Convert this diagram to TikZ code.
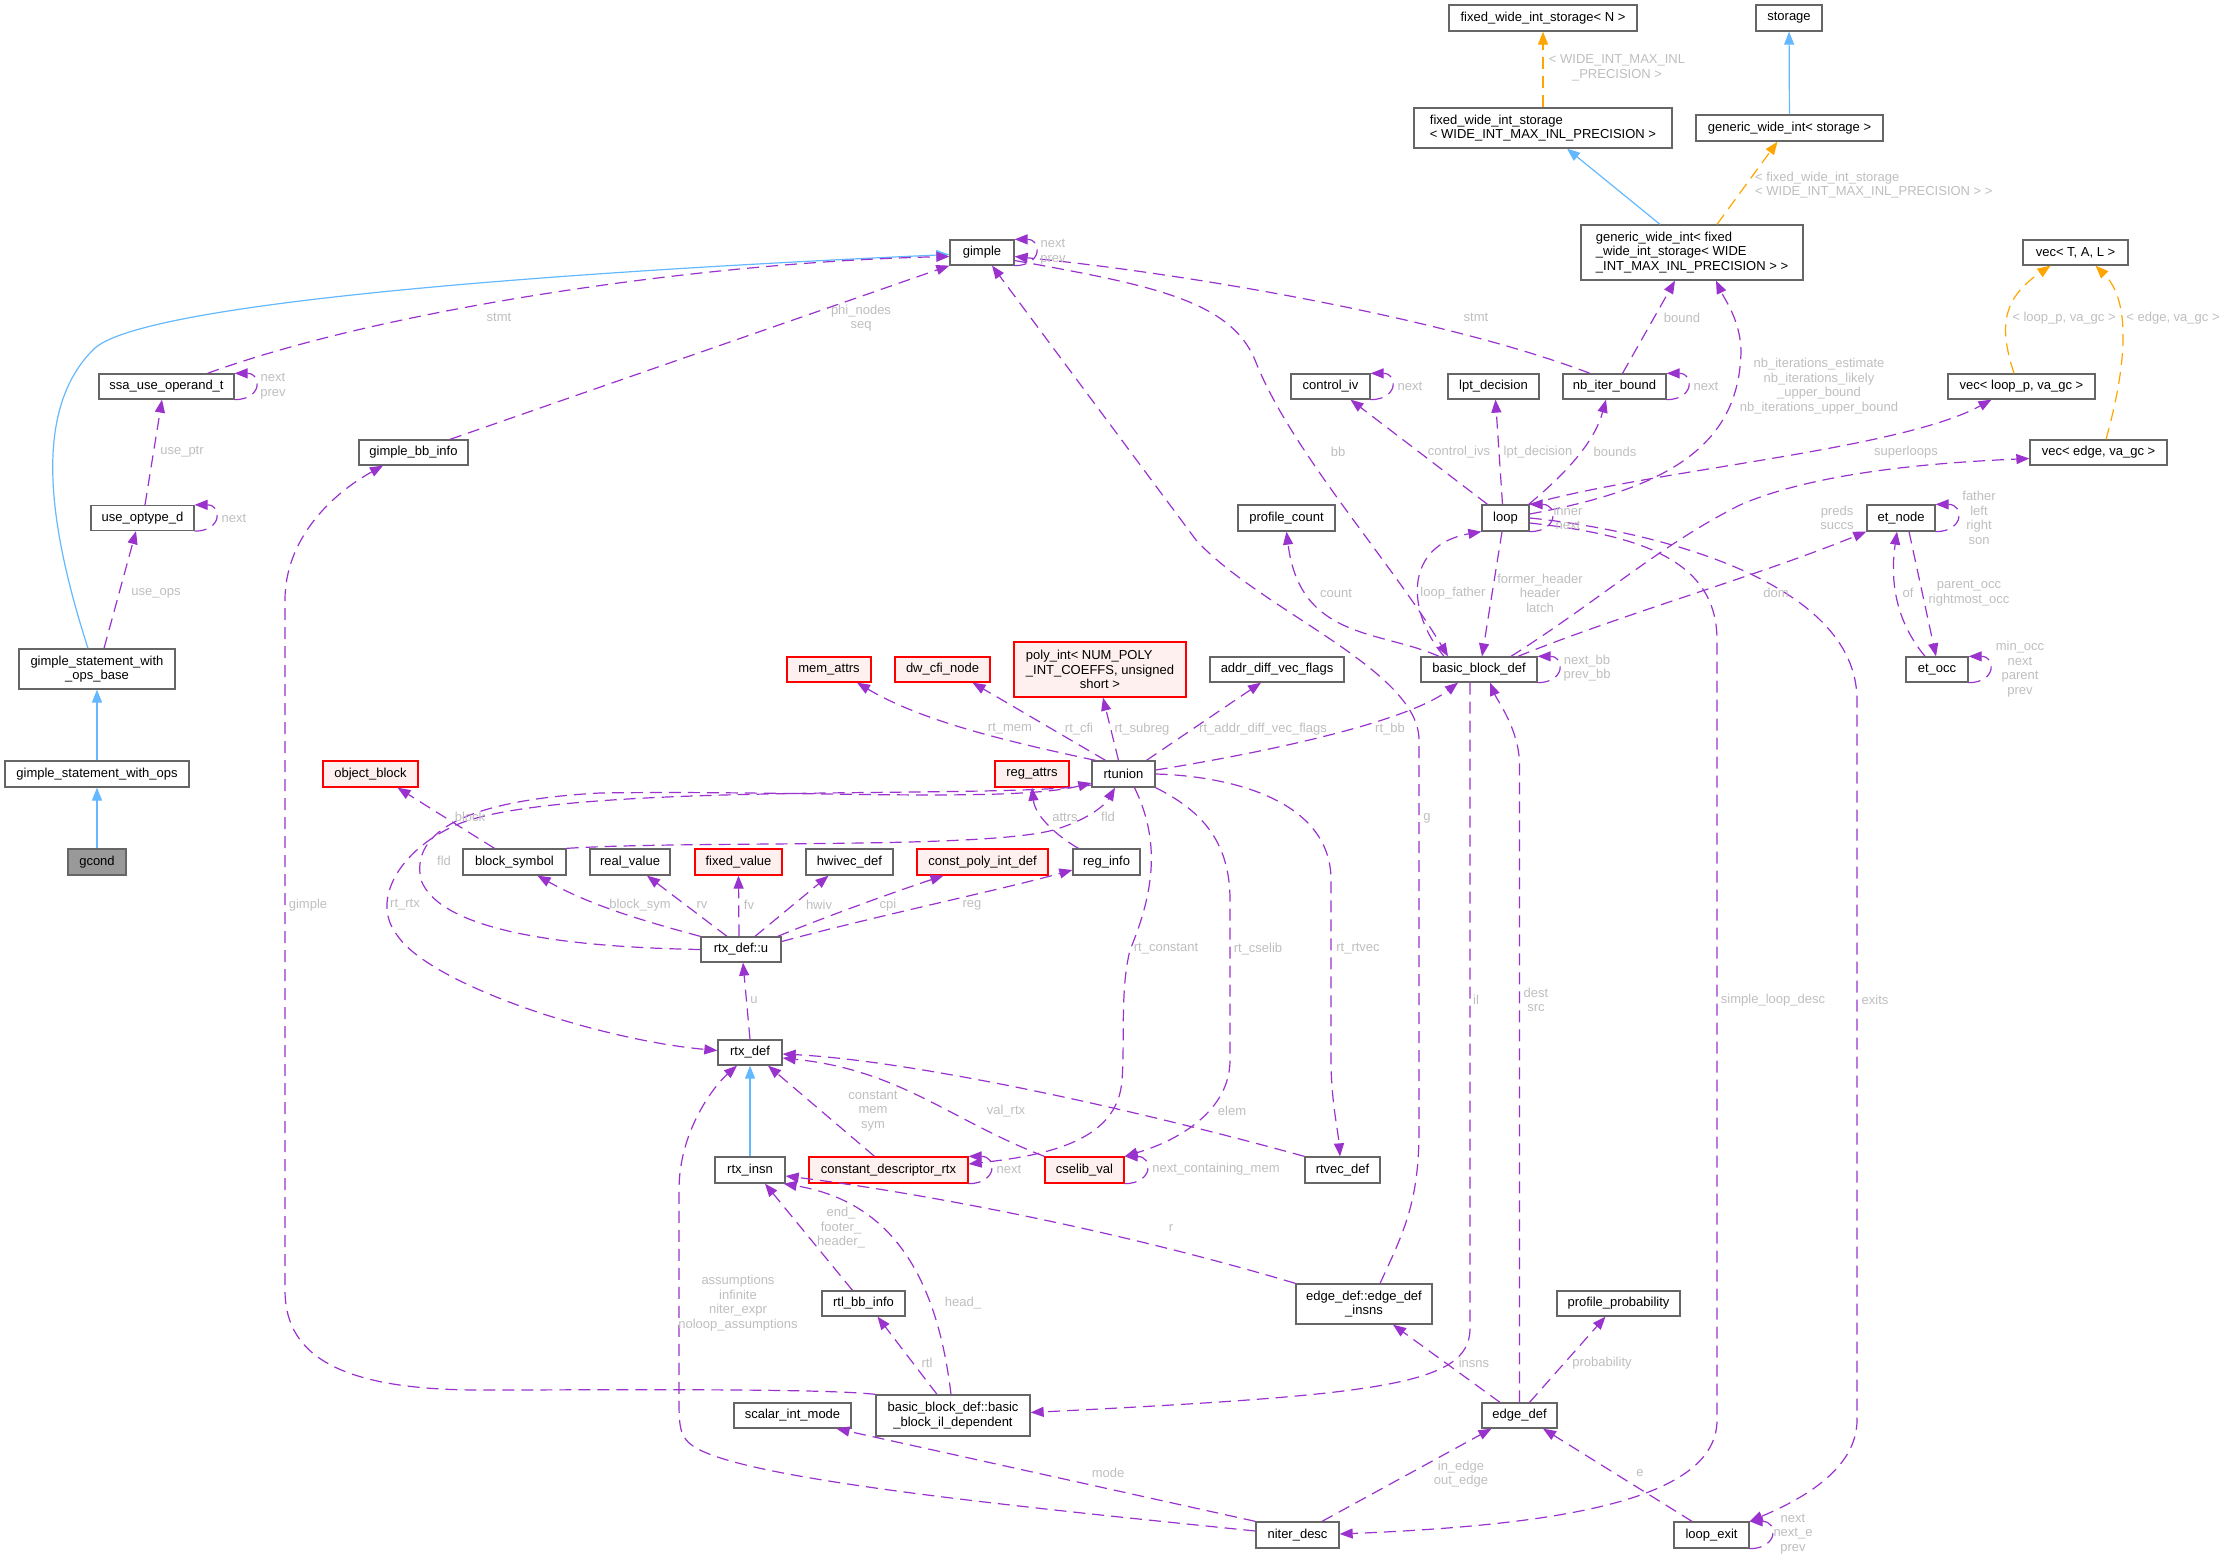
\documentclass[tikz,border=0pt]{standalone}
\usepackage{fontspec}
\setmainfont{Liberation Sans}
\usetikzlibrary{arrows.meta}
\definecolor{edgepurple}{HTML}{9A32CD}
\definecolor{inhblue}{HTML}{63B8FF}
\definecolor{tmplorange}{HTML}{FFA500}
\definecolor{boxgrey}{HTML}{666666}
\definecolor{lblgrey}{HTML}{BEBEBE}
\definecolor{redfill}{HTML}{FFF0F0}
\definecolor{gcondfill}{HTML}{999999}

\begin{document}
\begin{tikzpicture}[x=1pt, y=-1pt, >={Triangle[length=13pt,width=10pt]}, font=\fontsize{13}{14.5}\selectfont]
	\tikzstyle{cls}=[draw=boxgrey, line width=1.3pt, fill=white, inner sep=0pt, minimum height=25pt, align=center]
	\tikzstyle{clsred}=[cls, draw=red, fill=redfill]
	\tikzstyle{lbl}=[text=lblgrey, inner sep=0pt, align=center]
	\tikzstyle{useedge}=[->, draw=edgepurple, line width=1.2pt, dash pattern=on 12pt off 7pt]
	\tikzstyle{inhedge}=[->, draw=inhblue, line width=1.2pt]
	\tikzstyle{tmpledge}=[->, draw=tmplorange, line width=1.2pt, dash pattern=on 12pt off 7pt]
	\useasboundingbox (0,0) rectangle (2227,1563);

	\node[cls, fill=gcondfill, minimum width=58pt, minimum height=26pt] (gcond) at (97,862) {gcond};
	\node[cls, minimum width=184pt, minimum height=26pt] (gswo) at (97,774) {gimple\_statement\_with\_ops};
	\node[cls, minimum width=156pt, minimum height=40pt] (gswob) at (97,669) {gimple\_statement\_with\\\_ops\_base};
	\node[cls, minimum width=103pt] (useopt) at (142.5,518) {use\_optype\_d};
	\node[cls, minimum width=135pt] (ssa) at (166.5,386.5) {ssa\_use\_operand\_t};
	\node[cls, minimum width=109pt] (gbbinfo) at (413.5,452.5) {gimple\_bb\_info};
	\node[cls, minimum width=64pt] (gimple) at (982,252.5) {gimple};
	\node[cls, minimum width=188pt, minimum height=26pt] (fwisn) at (1543,18) {fixed\_wide\_int\_storage< N >};
	\node[cls, minimum width=258pt, minimum height=40pt, align=left] (fwiswide) at (1543,128) {fixed\_wide\_int\_storage\\< WIDE\_INT\_MAX\_INL\_PRECISION >};
	\node[cls, minimum width=66pt, minimum height=26pt] (storage) at (1789,18) {storage};
	\node[cls, minimum width=187pt, minimum height=26pt] (gwis) at (1789.5,128) {generic\_wide\_int< storage >};
	\node[cls, minimum width=222pt, minimum height=55pt, align=left] (gwif) at (1692,252.5) {generic\_wide\_int< fixed\\\_wide\_int\_storage< WIDE\\\_INT\_MAX\_INL\_PRECISION > >};
	\node[cls, minimum width=105pt] (vect) at (2075.5,252.5) {vec< T, A, L >};
	\node[cls, minimum width=147pt] (vecloop) at (2021.5,386.5) {vec< loop\_p, va\_gc >};
	\node[cls, minimum width=137pt] (vecedge) at (2098.5,452.5) {vec< edge, va\_gc >};
	\node[cls, minimum width=79pt] (controliv) at (1330.5,386.5) {control\_iv};
	\node[cls, minimum width=91pt] (lpt) at (1493.5,386.5) {lpt\_decision};
	\node[cls, minimum width=103pt] (nbiter) at (1614.5,386.5) {nb\_iter\_bound};
	\node[cls, minimum width=97pt, minimum height=26pt] (profcount) at (1286.5,518) {profile\_count};
	\node[cls, minimum width=47pt, minimum height=26pt] (loop) at (1505.5,518) {loop};
	\node[cls, minimum width=68pt, minimum height=26pt] (etnode) at (1901,518) {et\_node};
	\node[cls, minimum width=62pt] (etocc) at (1937,669.5) {et\_occ};
	\node[cls, minimum width=116pt] (bbdef) at (1479,669.5) {basic\_block\_def};
	\node[clsred, minimum width=84pt] (memattrs) at (829,669.5) {mem\_attrs};
	\node[clsred, minimum width=95pt] (dwcfi) at (942.5,669.5) {dw\_cfi\_node};
	\node[clsred, minimum width=172pt, minimum height=55pt, align=left] (polyint) at (1100,669.5) {poly\_int< NUM\_POLY\\\_INT\_COEFFS, unsigned\\\hspace*{54pt}short >};
	\node[cls, minimum width=134pt] (addrdiff) at (1277,669.5) {addr\_diff\_vec\_flags};
	\node[clsred, minimum width=95pt, minimum height=26pt] (objblock) at (370.5,774) {object\_block};
	\node[clsred, minimum width=74pt, minimum height=26pt] (regattrs) at (1032,774) {reg\_attrs};
	\node[cls, minimum width=63pt, minimum height=26pt] (rtunion) at (1123.5,774) {rtunion};
	\node[cls, minimum width=103pt, minimum height=26pt] (blocksym) at (514.5,862) {block\_symbol};
	\node[cls, minimum width=80pt, minimum height=26pt] (realvalue) at (630,862) {real\_value};
	\node[clsred, minimum width=87pt, minimum height=26pt] (fixedvalue) at (738.5,862) {fixed\_value};
	\node[cls, minimum width=87pt, minimum height=26pt] (hwivec) at (849.5,862) {hwivec\_def};
	\node[clsred, minimum width=131pt, minimum height=26pt] (cpidef) at (982.5,862) {const\_poly\_int\_def};
	\node[cls, minimum width=67pt, minimum height=26pt] (reginfo) at (1106.5,862) {reg\_info};
	\node[cls, minimum width=80pt] (rtxu) at (741,949.5) {rtx\_def::u};
	\node[cls, minimum width=64pt] (rtxdef) at (750,1052.5) {rtx\_def};
	\node[cls, minimum width=70pt, minimum height=26pt] (rtxinsn) at (750,1170) {rtx\_insn};
	\node[clsred, minimum width=159pt, minimum height=26pt] (cdr) at (888.5,1170) {constant\_descriptor\_rtx};
	\node[clsred, minimum width=79pt, minimum height=26pt] (cselib) at (1084.5,1170) {cselib\_val};
	\node[cls, minimum width=75pt, minimum height=26pt] (rtvec) at (1342.5,1170) {rtvec\_def};
	\node[cls, minimum width=83pt] (rtlbb) at (863.5,1303.5) {rtl\_bb\_info};
	\node[cls, minimum width=136pt, minimum height=40pt] (edi) at (1364,1304) {edge\_def::edge\_def\\\_insns};
	\node[cls, minimum width=123pt] (profprob) at (1618.5,1303.5) {profile\_probability};
	\node[cls, minimum width=117pt] (scalarint) at (792.5,1415.5) {scalar\_int\_mode};
	\node[cls, minimum width=154pt, minimum height=41pt] (bbil) at (953,1415.5) {basic\_block\_def::basic\\\_block\_il\_dependent};
	\node[cls, minimum width=75pt] (edgedef) at (1519.5,1415.5) {edge\_def};
	\node[cls, minimum width=83pt, minimum height=26pt] (niterdesc) at (1297.5,1535) {niter\_desc};
	\node[cls, minimum width=75pt, minimum height=26pt] (loopexit) at (1711.5,1535) {loop\_exit};

	\path (gcond) edge[inhedge] (gswo);
	\path (gswo) edge[inhedge] (gswob);
	\draw[inhedge] ([xshift=-9pt]gswob.north) .. controls (50,530) and (30,410) .. (95,348) .. controls (150,300) and (600,270) .. ([yshift=-2pt]gimple.west);
	\path (rtxinsn) edge[inhedge] (rtxdef);
	\path ([xshift=-32pt]gwif.north) edge[inhedge] ([xshift=24pt]fwiswide.south);
	\path (gwis) edge[inhedge] (storage);

	\path (fwiswide) edge[tmpledge] (fwisn);
	\path ([xshift=25pt]gwif.north) edge[tmpledge] ([xshift=-12pt]gwis.south);
	\draw[tmpledge] ([xshift=-7.5pt]vecloop.north) .. controls (2000,330) and (2000,300) .. ([xshift=-25pt]vect.south);
	\draw[tmpledge] ([xshift=7.5pt]vecedge.north) .. controls (2128,360) and (2130,300) .. ([xshift=20pt]vect.south);

	\draw[useedge] ([xshift=41pt]ssa.north) .. controls (380,310) and (700,262) .. ([yshift=-4pt]gimple.west);
	\path (ssa.south east) edge[useedge, out=0, in=0, looseness=2.7] (ssa.north east);
	\path ([xshift=2.5pt]useopt.north) edge[useedge] ([xshift=-4.5pt]ssa.south);
	\path (useopt.south east) edge[useedge, out=0, in=0, looseness=2.7] (useopt.north east);
	\path ([xshift=7pt]gswob.north) edge[useedge] ([xshift=-6.5pt]useopt.south);
	\path ([xshift=36.5pt]gbbinfo.north) edge[useedge] (gimple.south west);
	\path (gimple.south east) edge[useedge, out=0, in=0, looseness=2.7] (gimple.north east);
	\draw[useedge] ([xshift=-24.5pt]nbiter.north) .. controls (1450,320) and (1200,275) .. ([yshift=-4pt]gimple.east);
	\draw[useedge] ([yshift=-8pt]gimple.east) .. controls (1150,285) and (1230,300) .. (1255,360) .. controls (1290,450) and (1390,560) .. ([xshift=-31pt]bbdef.north);
	\draw[useedge] ([xshift=16pt]edi.north) .. controls (1405,1230) and (1419,1200) .. (1419,1130) -- (1419,740) .. controls (1419,670) and (1260,610) .. (1196,540) -- ([xshift=10pt]gimple.south);
	\draw[useedge] ([xshift=-40pt]bbdef.north) .. controls (1380,630) and (1300,640) .. (profcount.south);
	\draw[useedge] ([xshift=-35pt]bbdef.north) .. controls (1405,610) and (1405,545) .. (loop.south west);
	\path ([xshift=-3.5pt]loop.south) edge[useedge] ([xshift=3pt]bbdef.north);
	\path (bbdef.south east) edge[useedge, out=0, in=0, looseness=2.7] (bbdef.north east);
	\draw[useedge] ([xshift=39pt]bbdef.north) .. controls (1620,615) and (1760,575) .. (etnode.south west);
	\draw[useedge] ([xshift=32pt]bbdef.north) .. controls (1600,600) and (1660,545) .. (1740,505) .. controls (1820,470) and (1950,462) .. ([yshift=-6pt]vecedge.west);
	\path (controliv.south east) edge[useedge, out=0, in=0, looseness=2.7] (controliv.north east);
	\path ([xshift=-18pt]loop.north) edge[useedge] ([xshift=20pt]controliv.south);
	\path ([xshift=-3pt]loop.north) edge[useedge] ([xshift=2pt]lpt.south);
	\draw[useedge] ([xshift=-1pt]loop.north east) .. controls (1570,470) and (1595,440) .. ([xshift=-8.5pt]nbiter.south);
	\path (nbiter.south east) edge[useedge, out=0, in=0, looseness=2.7] (nbiter.north east);
	\path ([xshift=8pt]nbiter.north) edge[useedge] ([xshift=-17pt]gwif.south);
	\draw[useedge] ([yshift=4pt]loop.east) .. controls (1660,490) and (1740,450) .. (1741,350) .. controls (1740,320) and (1725,300) .. ([xshift=24pt]gwif.south);
	\draw[useedge] (loop.north east) .. controls (1650,470) and (1900,450) .. ([xshift=-30pt]vecloop.south);
	\path (loop.south east) edge[useedge, out=0, in=0, looseness=2.7] (loop.north east);
	\draw[useedge] ([yshift=-5pt]loop.east) .. controls (1640,535) and (1717,560) .. (1717,640) -- (1717,1420) .. controls (1717,1500) and (1560,1525) .. ([yshift=1pt]niterdesc.east);
	\draw[useedge] (loop.east) .. controls (1650,530) and (1857,580) .. (1857,700) -- (1857,1420) .. controls (1857,1470) and (1800,1500) .. (loopexit.north east);
	\path (loopexit.south east) edge[useedge, out=0, in=0, looseness=2.7] (loopexit.north east);
	\path ([xshift=-19.5pt]loopexit.north) edge[useedge] ([xshift=23.5pt]edgedef.south);
	\path ([xshift=10pt]edgedef.north) edge[useedge] ([xshift=-13pt]profprob.south);
	\draw[useedge] (edgedef.north) -- (1519.5,765) .. controls (1519.5,730) and (1497,700) .. ([xshift=11pt]bbdef.south);
	\path ([xshift=-19.5pt]edgedef.north) edge[useedge] ([xshift=29pt]edi.south);
	\draw[useedge] ([xshift=-9pt]bbdef.south) -- (1470,1330) .. controls (1468,1385) and (1380,1395) .. ([yshift=3pt]bbil.east);
	\path ([xshift=24.5pt]niterdesc.north) edge[useedge] ([xshift=-28pt]edgedef.south);
	\path (niterdesc.north west) edge[useedge] ([xshift=44pt]scalarint.south);
	\draw[useedge] ([yshift=4pt]niterdesc.west) .. controls (1000,1505) and (760,1480) .. (700,1450) .. controls (680,1440) and (679,1430) .. (679,1400) -- (679,1190) .. controls (679,1130) and (715,1085) .. ([xshift=-13pt]rtxdef.south);
	\draw[useedge] (bbil.north west) .. controls (820,1388) and (600,1390) .. (480,1390) .. controls (330,1390) and (285,1350) .. (285,1290) -- (285,600) .. controls (285,540) and (330,495) .. ([xshift=-30.5pt]gbbinfo.south);
	\draw[useedge] ([xshift=-2pt]bbil.north) .. controls (935,1260) and (880,1200) .. ([xshift=-2pt]rtxinsn.south east);
	\path ([xshift=-16pt]bbil.north) edge[useedge] ([xshift=14pt]rtlbb.south);
	\path ([xshift=-11pt]rtlbb.north) edge[useedge] ([xshift=15pt]rtxinsn.south);
	\draw[useedge] (edi.north west) .. controls (1100,1225) and (900,1190) .. ([yshift=-6pt]rtxinsn.east);
	\path (cdr.south east) edge[useedge, out=0, in=0, looseness=2.7] (cdr.north east);
	\path ([xshift=-14pt]cdr.north) edge[useedge] ([xshift=18pt]rtxdef.south);
	\draw[useedge] (cselib.north west) .. controls (950,1120) and (900,1070) .. ([yshift=-5.5pt]rtxdef.east);
	\draw[useedge] (rtvec.north west) .. controls (1100,1100) and (900,1060) .. ([yshift=-1.5pt]rtxdef.east);
	\path (cselib.south east) edge[useedge, out=0, in=0, looseness=2.7] (cselib.north east);
	\draw[useedge] ([yshift=-11pt]rtunion.west) .. controls (1000,800) and (560,780) .. (456,825) .. controls (400,850) and (370,900) .. (397,935) .. controls (430,985) and (600,1040) .. ([yshift=2pt]rtxdef.west);
	\draw[useedge] (rtxu.west) .. controls (560,947) and (440,930) .. (421,880) .. controls (410,830) and (470,800) .. (600,793) .. controls (800,790) and (1010,803) .. ([yshift=-9pt]rtunion.west);
	\draw[useedge] ([xshift=-28pt]rtunion.north) .. controls (1000,740) and (920,720) .. ([xshift=28pt]memattrs.south);
	\path ([xshift=-18pt]rtunion.north) edge[useedge] ([xshift=30pt]dwcfi.south);
	\path ([xshift=-5pt]rtunion.north) edge[useedge] ([xshift=3pt]polyint.south);
	\path ([xshift=23pt]rtunion.north) edge[useedge] ([xshift=-16pt]addrdiff.south);
	\draw[useedge] ([yshift=4pt]rtunion.east) .. controls (1280,750) and (1410,720) .. ([xshift=-21pt]bbdef.south);
	\draw[useedge] ([xshift=11pt]rtunion.south) .. controls (1160,840) and (1155,890) .. (1130,950) .. controls (1120,990) and (1125,1040) .. (1122,1080) .. controls (1118,1140) and (1050,1155) .. ([yshift=6pt]cdr.east);
	\draw[useedge] (rtunion.south east) .. controls (1200,810) and (1230,840) .. (1230,900) -- (1230,1060) .. controls (1230,1110) and (1180,1140) .. (cselib.north east);
	\draw[useedge] (rtunion.east) .. controls (1230,776) and (1331,800) .. (1331,880) -- (1331,1060) .. controls (1331,1100) and (1338,1130) .. ([xshift=-2.5pt]rtvec.north);
	\path (rtxdef.north) edge[useedge] ([xshift=2pt]rtxu.south);
	\draw[useedge] (rtxu.north west) .. controls (640,920) and (590,905) .. ([xshift=23pt]blocksym.south);
	\path ([xshift=-14pt]rtxu.north) edge[useedge] ([xshift=17pt]realvalue.south);
	\path ([xshift=-2pt]rtxu.north) edge[useedge] (fixedvalue.south);
	\path ([xshift=14pt]rtxu.north) edge[useedge] ([xshift=-21pt]hwivec.south);
	\draw[useedge] ([xshift=-4pt]rtxu.north east) .. controls (830,915) and (900,890) .. ([xshift=-39pt]cpidef.south);
	\draw[useedge] ([yshift=8pt]rtxu.east) .. controls (880,915) and (1000,890) .. ([yshift=-8pt]reginfo.west);
	\draw[useedge] ([xshift=-28pt]reginfo.north) .. controls (1055,835) and (1035,815) .. (regattrs.south);
	\path ([xshift=-20pt]blocksym.north) edge[useedge] ([xshift=27pt]objblock.south);
	\draw[useedge] (blocksym.north east) .. controls (700,840) and (1000,850) .. (1060,828) .. controls (1090,818) and (1105,805) .. ([xshift=-8.5pt]rtunion.south);
	\path (etnode.south east) edge[useedge, out=0, in=0, looseness=2.7] (etnode.north east);
	\path ([xshift=8pt]etnode.south) edge[useedge] ([xshift=-1pt]etocc.north);
	\draw[useedge] ([xshift=-12pt]etocc.north) .. controls (1895,620) and (1890,580) .. ([xshift=-4pt]etnode.south);
	\path (etocc.south east) edge[useedge, out=0, in=0, looseness=2.7] (etocc.north east);

	\node[lbl] (lwiden) at (1617,68) {< WIDE\_INT\_MAX\_INL\\\_PRECISION >};
	\node[lbl, align=left, anchor=west] (lwidestor) at (1755,185) {< fixed\_wide\_int\_storage\\< WIDE\_INT\_MAX\_INL\_PRECISION > >};
	\node[lbl] (lvecloop) at (2064,318) {< loop\_p, va\_gc >};
	\node[lbl] (lvecedge) at (2173,318) {< edge, va\_gc >};
	\node[lbl] (lstmta) at (499,317) {stmt};
	\node[lbl] (lssaloop) at (273,386) {next\\prev};
	\node[lbl] (luseptr) at (182,452) {use\_ptr};
	\node[lbl] (luseoptloop) at (234,518) {next};
	\node[lbl] (luseops) at (156,593) {use\_ops};
	\node[lbl] (lphi) at (861,318) {phi\_nodes\\seq};
	\node[lbl] (lgimpleloop) at (1053,252) {next\\prev};
	\node[lbl] (lstmtb) at (1476,317) {stmt};
	\node[lbl] (lbb) at (1338,452) {bb};
	\node[lbl] (lg) at (1427,818) {g};
	\node[lbl] (lcount) at (1336,593) {count};
	\node[lbl] (lloopfather) at (1453,593) {loop\_father};
	\node[lbl] (lheader) at (1540,593) {former\_header\\header\\latch};
	\node[lbl] (lbbloop) at (1587,668) {next\_bb\\prev\_bb};
	\node[lbl] (ldom) at (1776,593) {dom};
	\node[lbl] (lpreds) at (1837,518) {preds\\succs};
	\node[lbl] (lcivloop) at (1410,386) {next};
	\node[lbl] (lcivs) at (1459,452) {control\_ivs};
	\node[lbl] (llpt) at (1538,452) {lpt\_decision};
	\node[lbl] (lbounds) at (1615,452) {bounds};
	\node[lbl] (lnbloop) at (1706,386) {next};
	\node[lbl] (lbound) at (1682,318) {bound};
	\node[lbl] (lnbiters) at (1819,386) {nb\_iterations\_estimate\\nb\_iterations\_likely\\\_upper\_bound\\nb\_iterations\_upper\_bound};
	\node[lbl] (lsuper) at (1906,452) {superloops};
	\node[lbl] (lloopself) at (1568,518) {inner\\next};
	\node[lbl] (lsimple) at (1773,1000) {simple\_loop\_desc};
	\node[lbl] (lexits) at (1875,1000) {exits};
	\node[lbl] (lexitloop) at (1793,1534) {next\\next\_e\\prev};
	\node[lbl] (le) at (1640,1473) {e};
	\node[lbl] (lprob) at (1602,1363) {probability};
	\node[lbl] (ldest) at (1536,1000) {dest\\src};
	\node[lbl] (linsns) at (1474,1363) {insns};
	\node[lbl] (lil) at (1476,1000) {il};
	\node[lbl] (linedge) at (1461,1474) {in\_edge\\out\_edge};
	\node[lbl] (lmode) at (1108,1473) {mode};
	\node[lbl] (lassum) at (738,1303) {assumptions\\infinite\\niter\_expr\\noloop\_assumptions};
	\node[lbl] (lgimple) at (308,905) {gimple};
	\node[lbl] (lhead) at (963,1303) {head\_};
	\node[lbl] (lrtl) at (927,1363) {rtl};
	\node[lbl] (lend) at (841,1228) {end\_\\footer\_\\header\_};
	\node[lbl] (lr) at (1171,1228) {r};
	\node[lbl] (lcdrloop) at (1009,1169) {next};
	\node[lbl] (lconst) at (873,1111) {constant\\mem\\sym};
	\node[lbl] (lvalrtx) at (1006,1111) {val\_rtx};
	\node[lbl] (lelem) at (1232,1111) {elem};
	\node[lbl] (lcselibloop) at (1216,1169) {next\_containing\_mem};
	\node[lbl] (lrtrtx) at (405,905) {rt\_rtx};
	\node[lbl] (lfldu) at (444,861) {fld};
	\node[lbl] (lrtmem) at (1010,729) {rt\_mem};
	\node[lbl] (lrtcfi) at (1079,729) {rt\_cfi};
	\node[lbl] (lrtsubreg) at (1142,729) {rt\_subreg};
	\node[lbl] (lrtaddr) at (1263,729) {rt\_addr\_diff\_vec\_flags};
	\node[lbl] (lrtbb) at (1390,729) {rt\_bb};
	\node[lbl] (lrtconst) at (1166,949) {rt\_constant};
	\node[lbl] (lrtcselib) at (1258,949) {rt\_cselib};
	\node[lbl] (lrtrtvec) at (1358,949) {rt\_rtvec};
	\node[lbl] (lu) at (754,1000) {u};
	\node[lbl] (lblocksym) at (640,905) {block\_sym};
	\node[lbl] (lrv) at (702,905) {rv};
	\node[lbl] (lfv) at (749,905) {fv};
	\node[lbl] (lhwiv) at (819,905) {hwiv};
	\node[lbl] (lcpi) at (888,905) {cpi};
	\node[lbl] (lreg) at (972,905) {reg};
	\node[lbl] (lattrs) at (1065,817) {attrs};
	\node[lbl] (lblock) at (470,817) {block};
	\node[lbl] (lfldbs) at (1108,817) {fld};
	\node[lbl] (lfather) at (1979,518) {father\\left\\right\\son};
	\node[lbl] (lparentocc) at (1969,593) {parent\_occ\\rightmost\_occ};
	\node[lbl] (lof) at (1908,593) {of};
	\node[lbl] (loccloop) at (2020,669) {min\_occ\\next\\parent\\prev};
\end{tikzpicture}
\end{document}
